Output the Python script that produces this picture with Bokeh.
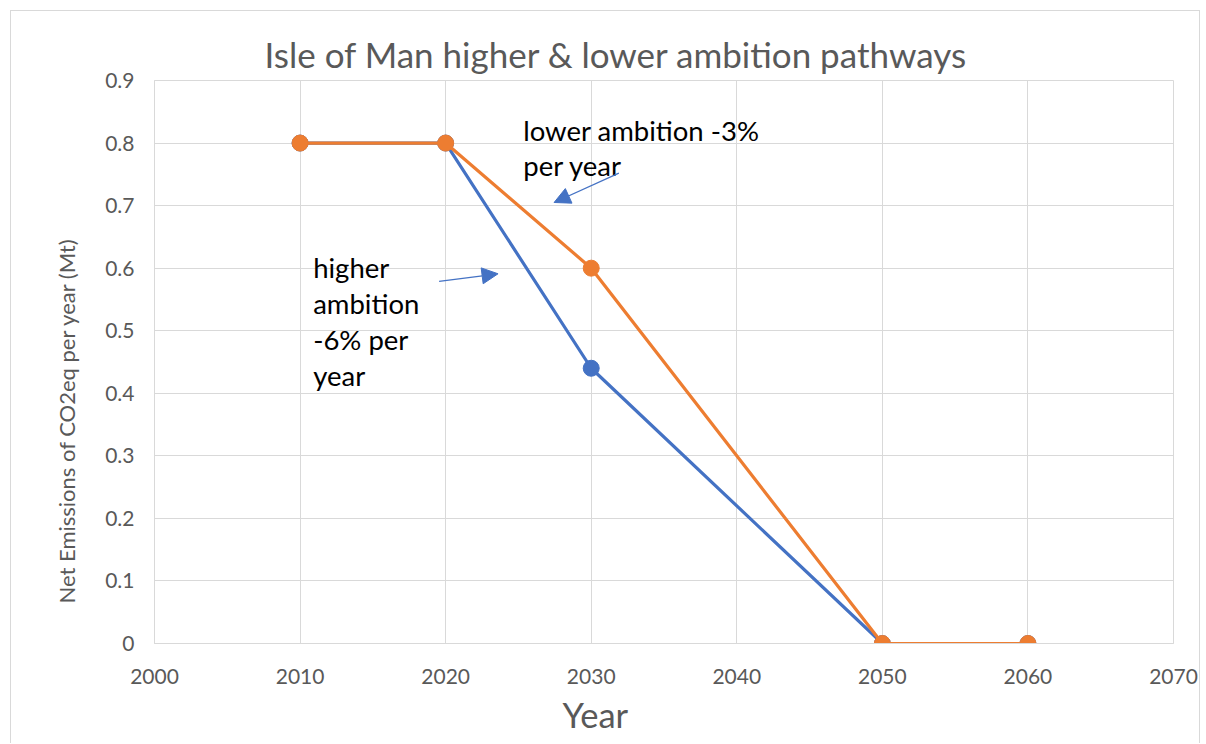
from bokeh.plotting import figure
from bokeh.models import (Label, Arrow, NormalHead, FixedTicker, NumeralTickFormatter, Range1d, Title)
from bokeh.embed import file_html
from bokeh.resources import INLINE

# ---- data ----
years = [2010, 2020, 2030, 2050, 2060]
higher_ambition = [0.8, 0.8, 0.44, 0.0, 0.0]
lower_ambition = [0.8, 0.8, 0.6, 0.0, 0.0]
x_ticks = [2000, 2010, 2020, 2030, 2040, 2050, 2060, 2070]
y_ticks = [0, 0.1, 0.2, 0.3, 0.4, 0.5, 0.6, 0.7, 0.8, 0.9]
title_text = "Isle of Man higher & lower ambition pathways"
x_label = "Year"
y_label = "Net Emissions of CO2eq per year (Mt)"
lower_note = ["lower ambition -3%", "per year"]
higher_note = ["higher", "ambition", "-6% per", "year"]

BLUE = "#4472C4"
ORANGE = "#ED7D31"
GRID = "#d9d9d9"
TXT = "#595959"
FONT = "Lato"

p = figure(width=1190, height=733, output_backend="svg", toolbar_location=None,
           x_range=Range1d(2000, 2070), y_range=Range1d(0, 0.9),
           min_border_left=143, min_border_right=28, min_border_top=69, min_border_bottom=101)
p.styles = {"border-top": "1px solid #d9d9d9", "border-left": "1px solid #d9d9d9",
            "border-right": "1px solid #d9d9d9", "margin-left": "10px", "margin-top": "10px"}
p.outline_line_color = GRID
p.background_fill_color = "white"
p.border_fill_color = "white"

p.xaxis.ticker = FixedTicker(ticks=x_ticks)
p.yaxis.ticker = FixedTicker(ticks=y_ticks)
p.yaxis.formatter = NumeralTickFormatter(format="0.[0]")
for ax in (p.xaxis, p.yaxis):
    ax.axis_line_color = GRID
    ax.major_tick_line_color = None
    ax.minor_tick_line_color = None
    ax.major_label_text_font = FONT
    ax.major_label_text_font_size = "21px"
    ax.major_label_text_color = TXT
p.xaxis.major_label_standoff = 19
p.yaxis.major_label_standoff = 14
p.xgrid.grid_line_color = GRID
p.ygrid.grid_line_color = GRID
p.xgrid.ticker = FixedTicker(ticks=x_ticks)
p.ygrid.ticker = FixedTicker(ticks=y_ticks)

p.line(years, higher_ambition, line_color=BLUE, line_width=3.2)
p.scatter(years, higher_ambition, size=16, fill_color=BLUE, line_color=BLUE)
p.line(years, lower_ambition, line_color=ORANGE, line_width=3.2)
p.scatter(years, lower_ambition, size=16, fill_color=ORANGE, line_color=ORANGE)

# title and axis labels as titles (so they can sit outside the frame)
p.add_layout(Title(text=title_text, align="left", offset=110, text_font=FONT,
                   text_font_size="35px", text_color=TXT, text_font_style="normal",
                   standoff=12), "above")
p.add_layout(Title(text=x_label, align="left", offset=408, text_font=FONT,
                   text_font_size="34.5px", text_color=TXT, text_font_style="normal",
                   vertical_align="top", standoff=14), "below")
p.add_layout(Title(text=y_label, align="left", offset=40, text_font=FONT,
                   text_font_size="22px", text_color=TXT, text_font_style="normal",
                   standoff=46), "left")

# notes
for i, line in enumerate(lower_note):
    p.add_layout(Label(x=2025.33, y=0.82, y_offset=-35 * i, text=line, text_font=FONT,
                       text_font_size="27.5px", text_color="black", text_baseline="middle"))
for i, line in enumerate(higher_note):
    p.add_layout(Label(x=2010.9, y=0.601, y_offset=-36 * i, text=line, text_font=FONT,
                       text_font_size="27.5px", text_color="black", text_baseline="middle"))

p.add_layout(Arrow(x_start=2031.9, y_start=0.752, x_end=2027.45, y_end=0.705,
                   line_color=BLUE, line_width=1.3,
                   end=NormalHead(size=16, fill_color=BLUE, line_color=BLUE)))
p.add_layout(Arrow(x_start=2019.55, y_start=0.579, x_end=2023.6, y_end=0.591,
                   line_color=BLUE, line_width=1.3,
                   end=NormalHead(size=16, fill_color=BLUE, line_color=BLUE)))

open("out.html", "w").write(file_html(p, INLINE))
